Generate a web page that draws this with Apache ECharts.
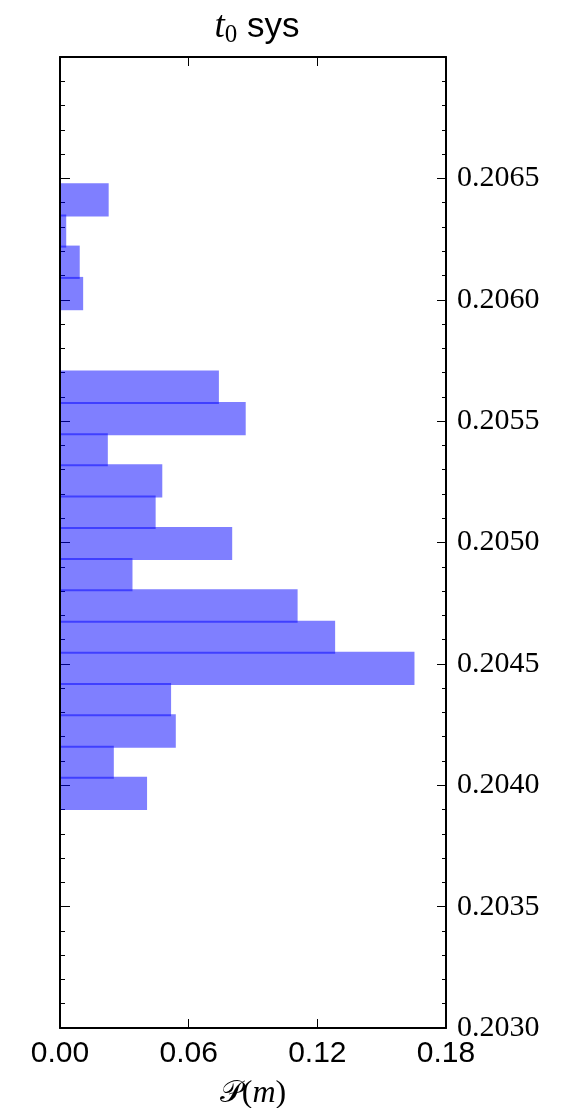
<!DOCTYPE html>
<html>
<head>
<meta charset="utf-8">
<script src="https://cdn.jsdelivr.net/npm/echarts@6/dist/echarts.min.js"></script>
<style>
  html, body { margin: 0; padding: 0; background: #fff; }
  #chart { width: 567px; height: 1108px; }
</style>
</head>
<body>
<div id="chart"></div>
<script>
// Histogram bin edges (t0 systematic), bottom to top
const binEdges = [0.203902, 0.204031, 0.204159, 0.204288, 0.204417, 0.204546,
  0.204674, 0.204803, 0.204932, 0.205060, 0.205189, 0.205318, 0.205446,
  0.205575, 0.205704, 0.205833, 0.205961, 0.206090, 0.206219, 0.206347, 0.206476];
// Probability in each bin, bottom to top
const probs = [0.0406, 0.0251, 0.0540, 0.0518, 0.1653, 0.1283, 0.1108, 0.0338,
  0.0803, 0.0446, 0.0477, 0.0223, 0.0866, 0.0741, 0, 0, 0.0108, 0.0092, 0.0029, 0.0227];
// Axis ticks
const xTicks = [0.00, 0.06, 0.12, 0.18];
const yMin = 0.2030, yMax = 0.2070, yStep = 0.0005;

const bins = [];
for (let i = 0; i < probs.length; i++) {
  if (probs[i] > 0) bins.push([binEdges[i], binEdges[i + 1], probs[i]]);
}

const serif = "'Liberation Serif', 'DejaVu Serif', serif";
const sans = "'Liberation Sans', Arial, sans-serif";

const chart = echarts.init(document.getElementById('chart'), null, { renderer: 'canvas' });

const frameLine = { show: true, onZero: false, lineStyle: { color: '#000', width: 2 } };

chart.setOption({
  animation: false,
  backgroundColor: '#fff',
  title: {
    text: '{t|t}{sub|0}{s| sys}',
    left: 252, top: 2, textAlign: 'center',
    textStyle: {
      fontWeight: 'normal',
      rich: {
        t: { fontFamily: serif, fontStyle: 'italic', fontWeight: 'normal', fontSize: 37, color: '#000' },
        sub: { fontFamily: serif, fontWeight: 'normal', fontSize: 25, color: '#000', verticalAlign: 'bottom', padding: [16, 0, 0, 0] },
        s: { fontFamily: sans, fontWeight: 'normal', fontSize: 35, color: '#000' }
      }
    }
  },
  grid: { left: 60, right: 121, top: 57, bottom: 80, containLabel: false, outerBoundsMode: 'none' },
  xAxis: [{
    type: 'value', position: 'bottom', min: xTicks[0], max: xTicks[xTicks.length - 1],
    interval: xTicks[1] - xTicks[0],
    axisLine: frameLine,
    axisTick: { show: true, inside: true, length: 9, lineStyle: { color: '#000', width: 1 } },
    axisLabel: { color: '#000', fontFamily: sans, fontSize: 30, margin: 11,
      formatter: v => v.toFixed(2) },
    splitLine: { show: false },
    name: '{p|𝒫}{r|(}{m|m}{r|)}', nameLocation: 'middle', nameGap: 50,
    nameTextStyle: {
      rich: {
        p: { fontFamily: "'DejaVu Serif', serif", fontSize: 31, color: '#000' },
        r: { fontFamily: serif, fontSize: 32, color: '#000' },
        m: { fontFamily: serif, fontStyle: 'italic', fontSize: 32, color: '#000' }
      }
    }
  }, {
    type: 'value', position: 'top', min: xTicks[0], max: xTicks[xTicks.length - 1],
    interval: xTicks[1] - xTicks[0],
    axisLine: frameLine,
    axisTick: { show: true, inside: true, length: 9, lineStyle: { color: '#000', width: 1 } },
    axisLabel: { show: false },
    splitLine: { show: false }
  }],
  yAxis: [{
    type: 'value', position: 'right', min: yMin, max: yMax, interval: yStep,
    axisLine: frameLine,
    axisTick: { show: true, inside: true, length: 9, lineStyle: { color: '#000', width: 1 } },
    minorTick: { show: true, splitNumber: 5, length: 4, lineStyle: { color: '#000', width: 1 } },
    axisLabel: { color: '#000', fontFamily: serif, fontSize: 30, margin: 11,
      formatter: v => (v > yMax - 1e-9 ? '' : v.toFixed(4)) },
    splitLine: { show: false }
  }, {
    type: 'value', position: 'left', min: yMin, max: yMax, interval: yStep,
    axisLine: frameLine,
    axisTick: { show: true, inside: true, length: 10, lineStyle: { color: '#000', width: 1 } },
    minorTick: { show: true, splitNumber: 5, length: 5, lineStyle: { color: '#000', width: 1 } },
    axisLabel: { show: false },
    splitLine: { show: false }
  }],
  series: [{
    type: 'custom',
    xAxisIndex: 0, yAxisIndex: 0,
    data: bins,
    encode: { x: 2, y: [0, 1] },
    renderItem: function (params, api) {
      const lo = api.value(0), hi = api.value(1), p = api.value(2);
      const a = api.coord([0, lo]);
      const b = api.coord([p, hi]);
      // adjacent bins overlap by a hair so their shared edge shows darker
      return {
        type: 'rect',
        shape: { x: a[0] + 1, y: b[1] - 1, width: b[0] - a[0] - 1, height: a[1] - b[1] + 2 },
        style: { fill: 'rgba(0,0,255,0.5)' }
      };
    },
    z: 1
  }]
});
</script>
</body>
</html>
